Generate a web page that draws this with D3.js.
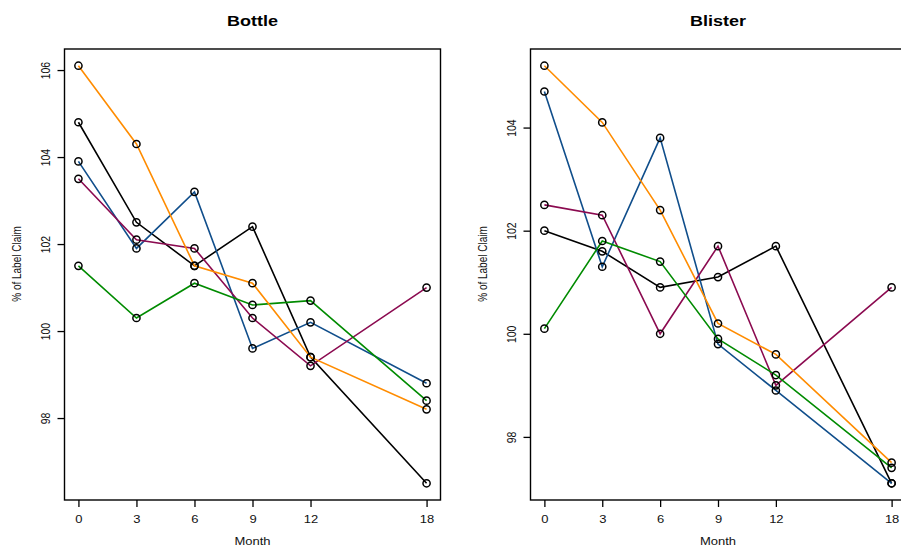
<!DOCTYPE html>
<html>
<head>
<meta charset="utf-8">
<script src="https://cdn.jsdelivr.net/npm/d3@7"></script>
<style>
  body { margin: 0; background: #fff; }
  svg { display: block; font-family: "Liberation Sans", Arial, sans-serif; }
</style>
</head>
<body>
<svg id="graphe" width="901" height="546"></svg>
<script>
//*** Données ******************************************************************************************/
// mois de stabilité (axe x)
const mois = [0, 3, 6, 9, 12, 18];

// couleurs des lots (même ordre que les séries)
const couleurs = ["#000000", "#104E8B", "#8B0A50", "#008B00", "#FF8C00"];

// Bottle : % of Label Claim par lot
const bottleNoir   = [104.8, 102.5, 101.5, 102.4, 99.4, 96.5];
const bottleBleu   = [103.9, 101.9, 103.2, 99.6, 100.2, 98.8];
const bottleViolet = [103.5, 102.1, 101.9, 100.3, 99.2, 101.0];
const bottleVert   = [101.5, 100.3, 101.1, 100.6, 100.7, 98.4];
const bottleOrange = [106.1, 104.3, 101.5, 101.1, 99.4, 98.2];

// Blister : % of Label Claim par lot
const blisterNoir   = [102.0, 101.6, 100.9, 101.1, 101.7, 97.1];
const blisterBleu   = [104.7, 101.3, 103.8, 99.8, 98.9, 97.1];
const blisterViolet = [102.5, 102.3, 100.0, 101.7, 99.0, 100.9];
const blisterVert   = [100.1, 101.8, 101.4, 99.9, 99.2, 97.4];
const blisterOrange = [105.2, 104.1, 102.4, 100.2, 99.6, 97.5];

//*** Mise en page *************************************************************************************/
const svg = d3.select("#graphe");
const haut = 49;
const bas = 500;
const police = "'Liberation Sans', Arial, sans-serif";
// l'image d'origine est écrasée verticalement, on écrase le texte pareil
const ecrase = "scale(1,0.8)";

// étend un domaine de 4% de chaque côté (comme R)
function etendre([min, max]) {
  const marge = (max - min) * 0.04;
  return [min - marge, max + marge];
}

function dessinerPanneau(titre, series, gauche, droite) {
  const x = d3.scaleLinear().domain(etendre(d3.extent(mois))).range([gauche, droite]);
  const y = d3.scaleLinear().domain(etendre(d3.extent(series.flat()))).range([bas, haut]);

  const g = svg.append("g");

  // axe x
  const axeX = g.append("g")
    .attr("transform", `translate(0,${bas})`)
    .call(d3.axisBottom(x).tickValues(mois).tickSize(7).tickFormat(d3.format("d")))
    .attr("font-family", police)
    .attr("font-size", 13);
  axeX.select(".domain").remove();
  axeX.selectAll("line").attr("stroke-width", 1.3);
  axeX.selectAll("text")
    .attr("y", null)
    .attr("dy", null)
    .attr("fill", "#111")
    .attr("transform", `translate(0,23) ${ecrase}`);

  // axe y (étiquettes tournées, parallèles à l'axe)
  const axeY = g.append("g")
    .attr("transform", `translate(${gauche},0)`)
    .call(d3.axisLeft(y).ticks(5).tickSize(7))
    .attr("font-family", police)
    .attr("font-size", 13);
  axeY.select(".domain").remove();
  axeY.selectAll("line").attr("stroke-width", 1.3);
  axeY.selectAll("text")
    .attr("x", null)
    .attr("dy", null)
    .attr("text-anchor", "middle")
    .attr("fill", "#111")
    .attr("transform", `translate(-15,0) ${ecrase} rotate(-90)`);

  // les lignes de chaque lot
  const ligne = d3.line()
    .x((d, i) => x(mois[i]))
    .y((d) => y(d));

  g.selectAll("path.lot")
    .data(series)
    .join("path")
    .attr("class", "lot")
    .attr("d", ligne)
    .attr("fill", "none")
    .attr("stroke", (d, i) => couleurs[i])
    .attr("stroke-width", 1.6);

  // points (cercles vides noirs)
  series.forEach((serie) => {
    g.selectAll(null)
      .data(serie)
      .join("circle")
      .attr("cx", (d, i) => x(mois[i]))
      .attr("cy", (d) => y(d))
      .attr("r", 3.6)
      .attr("fill", "none")
      .attr("stroke", "#000")
      .attr("stroke-width", 1.5);
  });

  // cadre
  g.append("rect")
    .attr("x", gauche)
    .attr("y", haut)
    .attr("width", droite - gauche)
    .attr("height", bas - haut)
    .attr("fill", "none")
    .attr("stroke", "#000")
    .attr("stroke-width", 1.4);

  const milieu = (gauche + droite) / 2;

  // titre
  g.append("text")
    .attr("transform", `translate(${milieu},26) ${ecrase}`)
    .attr("text-anchor", "middle")
    .attr("font-size", 18)
    .attr("font-weight", "bold")
    .text(titre);

  // titres des axes
  g.append("text")
    .attr("transform", `translate(${milieu},545) ${ecrase}`)
    .attr("text-anchor", "middle")
    .attr("font-size", 13)
    .attr("fill", "#111")
    .text("Month");

  g.append("text")
    .attr("transform", `translate(${gauche - 44},264) ${ecrase} rotate(-90)`)
    .attr("text-anchor", "middle")
    .attr("font-size", 12.5)
    .attr("fill", "#111")
    .text("% of Label Claim");
}

dessinerPanneau("Bottle",
  [bottleNoir, bottleBleu, bottleViolet, bottleVert, bottleOrange], 64.5, 440.5);
dessinerPanneau("Blister",
  [blisterNoir, blisterBleu, blisterViolet, blisterVert, blisterOrange], 530.5, 905.5);
</script>
</body>
</html>
